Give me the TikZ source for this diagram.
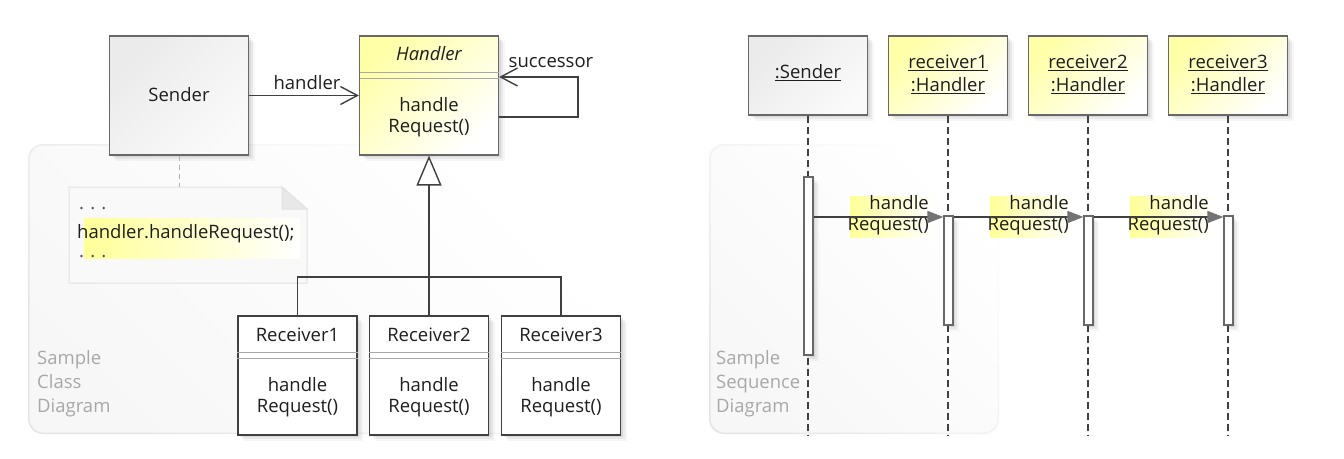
\documentclass[tikz,border=0pt]{standalone}
\usepackage{fontspec}
\setmainfont{Open Sans}
\usetikzlibrary{arrows.meta,shadows}
\definecolor{linec}{HTML}{404040}
\definecolor{boxline}{HTML}{686868}
\definecolor{sepline}{HTML}{A8A8A8}
\definecolor{hlyellow}{HTML}{FFFF99}
\definecolor{boxyellow}{HTML}{FFFFA8}
\definecolor{txt}{HTML}{1E1E1E}
\definecolor{captxt}{HTML}{A8A8A8}
\definecolor{notefill}{HTML}{F9F9F9}
\definecolor{noteline}{HTML}{E2E2E2}
\definecolor{notefold}{HTML}{E8E8E8}
\tikzset{
  softshadow/.style={
    drop shadow={shadow xshift=2pt,shadow yshift=-2pt,opacity=0.07,fill=black},
    drop shadow={shadow xshift=4pt,shadow yshift=-4pt,opacity=0.05,fill=black},
    drop shadow={shadow xshift=6pt,shadow yshift=-6pt,opacity=0.035,fill=black}},
  graybox/.style={draw=boxline,line width=1.2pt,top color=black!8,bottom color=black!2,shading angle=45,softshadow,inner sep=0pt},
  yelbox/.style={draw=boxline,line width=1.2pt,top color=boxyellow,bottom color=white,shading angle=45,softshadow,inner sep=0pt},
  whitebox/.style={draw=linec,line width=1.2pt,fill=white,softshadow,inner sep=0pt},
  actbar/.style={draw=boxline,line width=1.1pt,fill=white,softshadow,inner sep=0pt,minimum width=9pt},
  sepl/.style={draw=sepline,line width=1pt},
  conn/.style={draw=linec,line width=1.4pt},
  assoc/.style={conn,-{Straight Barb[length=17pt,width=18pt]}},
  gen/.style={conn,-{Triangle[open,length=30pt,width=25pt,fill=white]}},
  msg/.style={conn,-{Triangle[length=16pt,width=12pt,color=black!55]}},
  lifeline/.style={draw=linec,line width=1.2pt,dash pattern=on 7pt off 4pt},
  notelink/.style={draw=black!30,line width=1pt,dash pattern=on 5pt off 4pt},
  txtnode/.style={inner sep=0pt,text=txt},
  captext/.style={inner sep=0pt,text=captxt,align=left,anchor=west,font=\fontsize{18.5}{24}\selectfont},
  panelrim/.style={top color=white,bottom color=black!10,shading angle=-45,rounded corners=15pt},
  panelfill/.style={top color=white,bottom color=black!3,shading angle=-45,rounded corners=14pt},
}
\begin{document}
\begin{tikzpicture}[x=1pt,y=-1pt,font=\fontsize{18.5}{21.5}\selectfont]
\useasboundingbox (0,0) rectangle (1344,458);
\fill[white] (0,0) rectangle (1344,458);

% ---------- class diagram ----------
\path[panelrim] (28,144) rectangle (590,434);
\path[panelfill] (29.5,145.5) rectangle (588.5,432.5);
\node[captext] (capclass) at (37,384) {Sample\\Class\\Diagram};

% note
\path[fill=notefill,draw=noteline,line width=1pt] (69,187) -- (282,187) -- (307,209) -- (307,283) -- (69,283) -- cycle;
\path[fill=notefold,draw=noteline,line width=1pt] (282,187) -- (282,209) -- (307,209) -- cycle;
\coordinate (notetop) at (179,187);
\fill[left color=hlyellow,right color=white] (84,218) rectangle (300,258);
\node[txtnode,anchor=west,text=black!70] (dots1) at (79,209) {.\,\,.\,\,.};
\node[txtnode,anchor=west] (code) at (77,234) {handler.handleRequest();};
\node[txtnode,anchor=west,text=black!70] (dots2) at (79,257) {.\,\,.\,\,.};

% Sender
\node[graybox,minimum width=139pt,minimum height=119pt] (sender) at (179,95.5) {};
\node[txtnode] (sendername) at (179,95) {Sender};
\draw[notelink] (sender.south) -- (notetop);

% Handler
\node[yelbox,minimum width=139pt,minimum height=119pt] (handler) at (429,95.5) {};
\node[txtnode,font=\fontsize{18.5}{21.5}\selectfont\itshape] (handlername) at (429,54) {Handler};
\draw[sepl] (359.5,72) -- (498.5,72);
\draw[sepl] (359.5,78) -- (498.5,78);
\node[txtnode,align=center] (handlerops) at (429,117) {handle\\Request()};

% association
\draw[assoc] (sender.east) -- (handler.west);
\node[txtnode] (lblhandler) at (307,83) {handler};

% successor self loop
\coordinate (loopA) at (578,117);
\coordinate (loopB) at (578,77);
\draw[assoc] (handler.east |- loopA) -- (loopA) -- (loopB) -- (handler.east |- loopB);
\node[txtnode] (lblsucc) at (551,63) {successor};

% receivers
\foreach \n/\x/\t in {r1/297.5/Receiver1, r2/429/Receiver2, r3/561/Receiver3}{
  \node[whitebox,minimum width=119pt,minimum height=119pt] (\n) at (\x,375.5) {};
  \node[txtnode] (\n name) at (\x,334.5) {\t};
  \draw[sepl] ([yshift=-37pt]\n.north west) -- ([yshift=-37pt]\n.north east);
  \draw[sepl] ([yshift=-43pt]\n.north west) -- ([yshift=-43pt]\n.north east);
  \node[txtnode,align=center] (\n ops) at (\x,397) {handle\\Request()};
}

% generalization tree
\coordinate (bus) at (429,277);
\draw[conn] (r1.north) -- (r1.north |- bus) -- (r3.north |- bus) -- (r3.north);
\draw[conn] (r2.north) -- (r2.north |- bus);
\draw[gen] (r2.north |- bus) -- (handler.south);

% ---------- sequence diagram ----------
\path[panelrim] (709,144) rectangle (999,434);
\path[panelfill] (710.5,145.5) rectangle (997.5,432.5);
\node[captext] (capseq) at (716,384) {Sample\\Sequence\\Diagram};

\node[graybox,minimum width=119pt,minimum height=79pt] (ssender) at (808,75.5) {};
\node[txtnode] (ssendername) at (808,73) {\underline{:Sender}};
\foreach \n/\x/\t in {s1/948/receiver1, s2/1088/receiver2, s3/1228/receiver3}{
  \node[yelbox,minimum width=119pt,minimum height=79pt] (\n) at (\x,75.5) {};
  \node[txtnode,align=center,font=\fontsize{18.5}{23}\selectfont] (\n name) at (\x,74) {\underline{\t}\\\underline{:Handler}};
}

% lifelines
\coordinate (lbottom) at (0,436);
\foreach \n in {ssender,s1,s2,s3}{
  \draw[lifeline] (\n.south) -- (\n.south |- lbottom);
}

% activation bars
\node[actbar,minimum height=178pt] (a0) at (808.5,266) {};
\node[actbar,minimum height=109pt] (a1) at (948.5,270.5) {};
\node[actbar,minimum height=109pt] (a2) at (1088.5,270.5) {};
\node[actbar,minimum height=109pt] (a3) at (1228.5,270.5) {};

% messages
\coordinate (msgy) at (0,217);
\foreach \f/\t/\lx in {a0/a1/929, a1/a2/1069, a2/a3/1209}{
  \fill[left color=hlyellow,right color=white] (\lx-79,196) rectangle (\lx+3,237);
  \node[txtnode,anchor=east,align=right] (lbl\t) at (\lx,215) {handle\\Request()};
  \draw[msg] (\f.east |- msgy) -- (\t.west |- msgy);
}
\end{tikzpicture}
\end{document}
